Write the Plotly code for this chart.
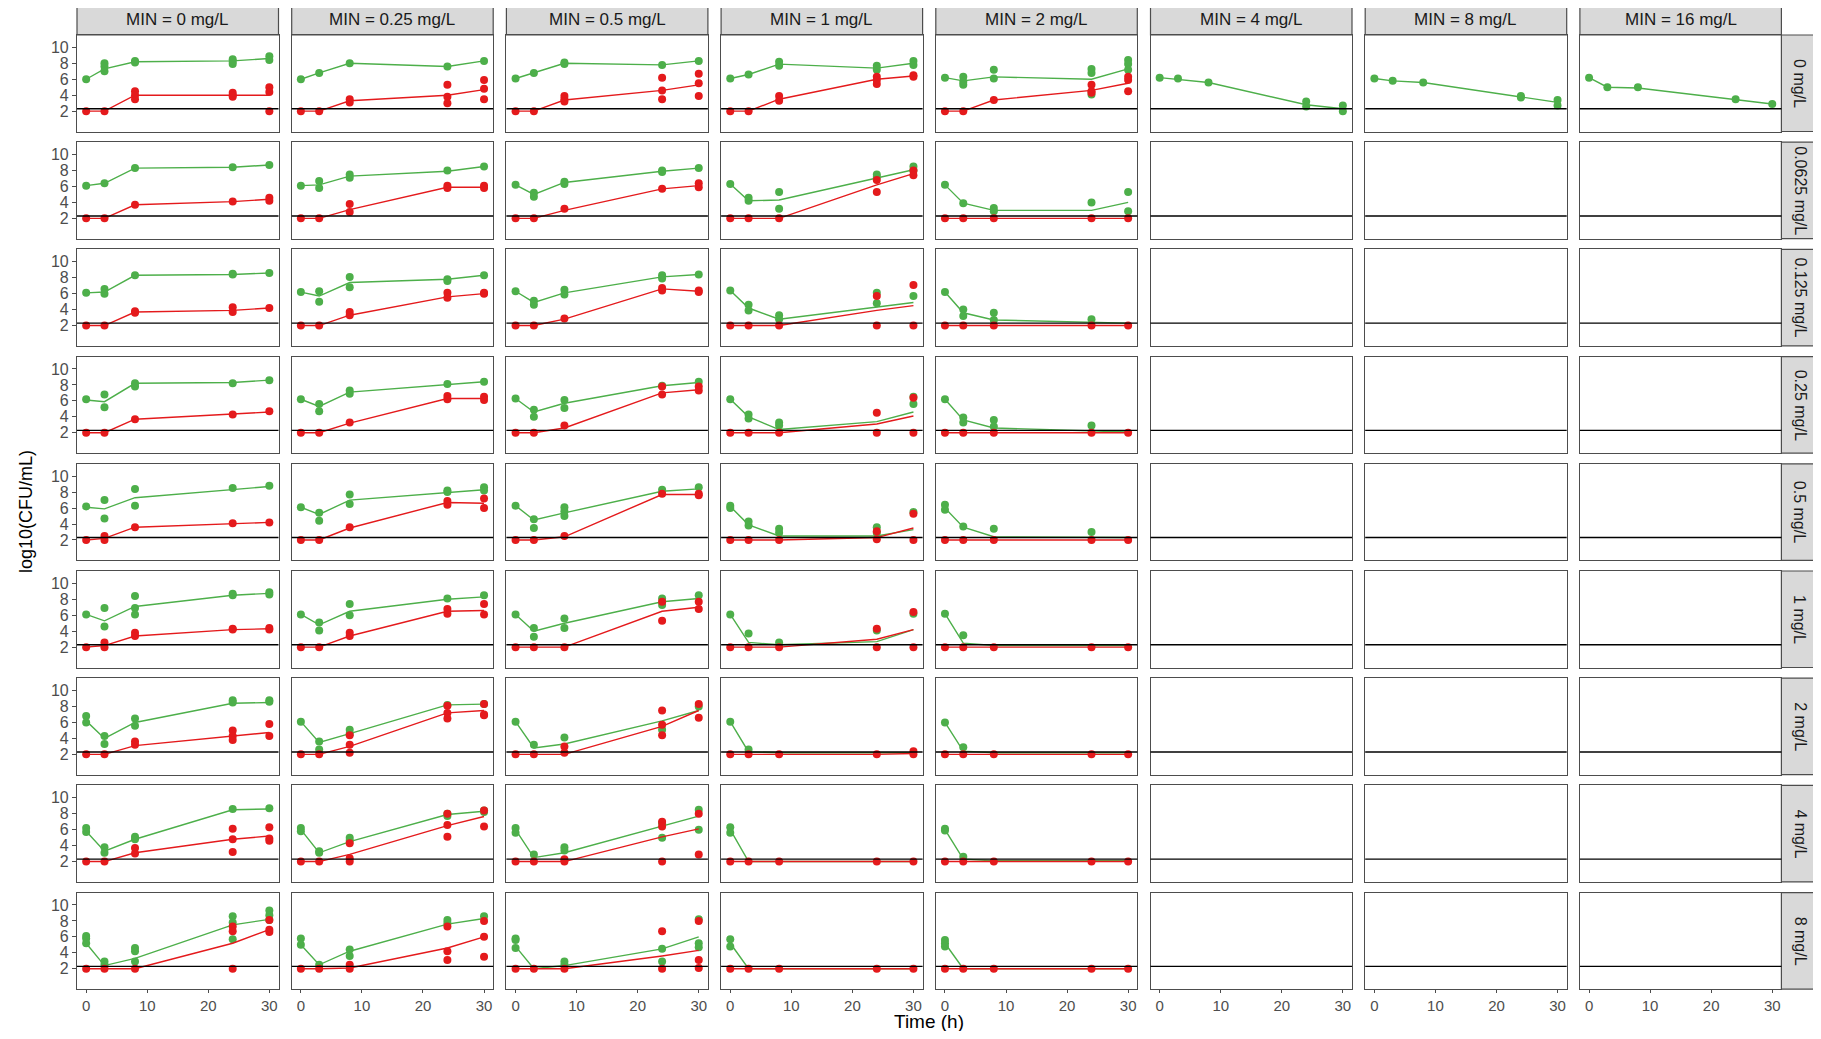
"""Time-kill curves: total (green) and resistant (red) log10 CFU/mL,
faceted by MIN concentration (columns) and partner drug concentration (rows)."""

import plotly.graph_objects as go

# --- Data ---------------------------------------------------------------------

TIMES = [0, 3, 8, 24, 30]
LOQ = 2.3

COL_LABELS = [
    "MIN = 0 mg/L", "MIN = 0.25 mg/L", "MIN = 0.5 mg/L", "MIN = 1 mg/L",
    "MIN = 2 mg/L", "MIN = 4 mg/L", "MIN = 8 mg/L", "MIN = 16 mg/L",
]
ROW_LABELS = [
    "0 mg/L", "0.0625 mg/L", "0.125 mg/L", "0.25 mg/L", "0.5 mg/L",
    "1 mg/L", "2 mg/L", "4 mg/L", "8 mg/L",
]

# observed replicates per time point, keyed by (row, col)
GREEN_OBS = {
    (0, 0): [[6.0], [8.0, 7.6, 7.0], [8.3, 8.1], [8.5, 8.2, 7.9], [8.9, 8.4]],
    (0, 1): [[6.0], [6.8], [8.0], [7.6], [8.3]],
    (0, 2): [[6.1], [6.8], [8.1, 7.9], [7.8], [8.3]],
    (0, 3): [[6.1], [6.6], [8.2, 7.7], [7.7, 7.2], [8.3, 7.8]],
    (0, 4): [[6.2], [6.3, 5.7, 5.3], [7.2, 6.1], [7.3, 6.8, 4.1], [8.4, 7.9, 7.2]],
    (0, 5): [[6.2], [6.1], [5.6], [3.2, 2.6], [2.7, 2.0]],
    (0, 6): [[6.1], [5.8], [5.6], [3.9, 3.7], [3.4, 2.7]],
    (0, 7): [[6.2], [5.0], [5.0], [3.5], [2.9]],
    (1, 0): [[6.1], [6.4], [8.3], [8.4], [8.7]],
    (1, 1): [[6.1], [6.7, 5.8], [7.5, 7.1], [8.0], [8.5]],
    (1, 2): [[6.2], [5.2, 4.7], [6.6, 6.3], [8.0, 7.8], [8.3]],
    (1, 3): [[6.3], [4.6, 4.2], [5.3, 3.2], [7.5, 7.2], [8.5, 8.0]],
    (1, 4): [[6.2], [3.9], [3.3, 2.9], [4.0], [5.3, 2.9]],
    (2, 0): [[6.1], [6.6, 6.0], [8.3], [8.5, 8.4], [8.6]],
    (2, 1): [[6.2], [6.3, 5.0], [8.1, 6.8], [7.8, 7.6], [8.3]],
    (2, 2): [[6.3], [5.1, 4.6], [6.5, 5.9], [8.3, 7.9], [8.4]],
    (2, 3): [[6.4], [4.6, 3.9], [3.3, 2.8], [6.1, 4.8], [5.7]],
    (2, 4): [[6.2], [4.0, 3.2], [3.6, 2.7], [2.8], []],
    (3, 0): [[6.2], [6.8, 5.2], [8.2, 7.8], [8.2], [8.6]],
    (3, 1): [[6.2], [5.6, 4.7], [7.3, 6.9], [8.1], [8.4]],
    (3, 2): [[6.3], [4.9, 4.0], [6.1, 5.1], [7.9], [8.4]],
    (3, 3): [[6.2], [4.3, 3.8], [3.3, 2.9], [], [6.5, 5.6]],
    (3, 4): [[6.2], [3.9, 3.3], [3.6, 2.8], [2.9], []],
    (4, 0): [[6.2], [7.0, 4.7], [8.4, 6.3], [8.5], [8.8]],
    (4, 1): [[6.1], [5.4, 4.4], [7.7, 6.5], [8.2, 8.0], [8.6, 8.2]],
    (4, 2): [[6.3], [4.6, 3.5], [6.1, 5.6, 5.0], [8.3], [8.6]],
    (4, 3): [[6.3, 6.0], [4.3, 3.8], [3.4, 2.9], [3.6, 2.9], [5.5]],
    (4, 4): [[6.4, 5.8], [3.7], [3.4], [3.0], []],
    (5, 0): [[6.1], [6.9, 4.6], [8.4, 6.9, 6.1], [8.7, 8.5], [8.9, 8.6]],
    (5, 1): [[6.1], [5.1, 4.1], [7.4, 6.0], [8.1], [8.5]],
    (5, 2): [[6.1], [4.4, 3.3], [5.6, 4.4], [8.1, 7.3], [8.5]],
    (5, 3): [[6.1], [3.7], [2.6], [4.1], [6.2]],
    (5, 4): [[6.2], [3.5], [], [], []],
    (6, 0): [[6.8, 6.0], [4.3, 3.3], [6.5, 5.6], [8.8, 8.5], [8.8, 8.6]],
    (6, 1): [[6.1], [3.6, 2.6], [5.1, 4.6], [8.2], [8.3]],
    (6, 2): [[6.1], [3.2], [4.1], [5.1], [8.0]],
    (6, 3): [[6.1], [2.6], [], [], []],
    (6, 4): [[6.0], [2.9], [], [], []],
    (7, 0): [[6.2, 5.7], [3.8, 3.1], [5.1, 4.8], [8.6], [8.7]],
    (7, 1): [[6.2, 5.8], [3.3, 3.1], [5.0, 4.6], [8.0, 7.7], [8.2, 8.4]],
    (7, 2): [[6.2, 5.6], [2.9], [3.8, 3.4], [6.8, 5.0], [8.5, 6.0]],
    (7, 3): [[6.3, 5.6], [], [], [], []],
    (7, 4): [[6.1, 5.9], [2.6], [], [], []],
    (8, 0): [[6.1, 5.8, 5.2], [2.9, 2.5], [4.6, 4.2, 2.9], [8.6, 7.8, 5.7], [9.3, 8.7, 8.1]],
    (8, 1): [[5.8, 5.0], [2.5], [4.4, 3.6], [8.1, 7.7], [8.6]],
    (8, 2): [[5.8, 5.6, 4.6], [], [2.9, 2.5], [4.5, 2.9], [8.2, 5.2, 4.7]],
    (8, 3): [[5.7, 4.8], [], [], [], []],
    (8, 4): [[5.6, 5.2, 4.8], [], [], [], []],
}

GREEN_FIT = {
    (0, 0): [6.0, 7.3, 8.2, 8.3, 8.6],
    (0, 1): [6.0, 6.8, 8.0, 7.6, 8.3],
    (0, 2): [6.1, 6.8, 8.0, 7.8, 8.3],
    (0, 3): [6.1, 6.6, 7.9, 7.4, 8.0],
    (0, 4): [6.2, 5.8, 6.3, 6.0, 7.3],
    (0, 5): [6.2, 6.0, 5.6, 2.8, 2.3],
    (0, 6): [6.1, 5.8, 5.6, 3.8, 3.1],
    (0, 7): [6.2, 5.0, 4.9, 3.5, 2.9],
    (1, 0): [6.1, 6.4, 8.3, 8.4, 8.7],
    (1, 1): [6.1, 6.2, 7.3, 7.9, 8.5],
    (1, 2): [6.2, 5.0, 6.5, 7.9, 8.3],
    (1, 3): [6.3, 4.2, 4.3, 7.0, 8.1],
    (1, 4): [6.2, 3.9, 3.0, 3.0, 4.0],
    (2, 0): [6.1, 6.2, 8.3, 8.4, 8.6],
    (2, 1): [6.2, 5.7, 7.4, 7.8, 8.3],
    (2, 2): [6.3, 4.9, 6.1, 8.1, 8.4],
    (2, 3): [6.4, 4.2, 2.8, 4.3, 4.9],
    (2, 4): [6.2, 3.6, 2.7, 2.4, 2.3],
    (3, 0): [6.1, 5.9, 8.2, 8.3, 8.6],
    (3, 1): [6.2, 5.3, 7.1, 8.1, 8.4],
    (3, 2): [6.3, 4.6, 5.7, 7.9, 8.3],
    (3, 3): [6.2, 4.0, 2.4, 3.4, 4.6],
    (3, 4): [6.2, 3.6, 2.6, 2.3, 2.1],
    (4, 0): [6.1, 5.9, 7.3, 8.3, 8.7],
    (4, 1): [6.1, 5.2, 7.0, 8.0, 8.3],
    (4, 2): [6.3, 4.5, 5.4, 8.1, 8.4],
    (4, 3): [6.2, 3.9, 2.5, 2.5, 3.3],
    (4, 4): [6.0, 3.6, 2.4, 2.3, 2.3],
    (5, 0): [6.1, 5.3, 7.1, 8.5, 8.75],
    (5, 1): [6.1, 4.8, 6.5, 8.0, 8.3],
    (5, 2): [6.1, 4.0, 5.0, 7.7, 8.1],
    (5, 3): [6.1, 2.6, 2.3, 2.7, 4.2],
    (5, 4): [6.2, 2.5, 2.2, 2.2, 2.2],
    (6, 0): [6.2, 4.0, 6.0, 8.4, 8.5],
    (6, 1): [6.1, 3.5, 4.6, 8.2, 8.3],
    (6, 2): [6.1, 2.8, 3.3, 6.2, 7.5],
    (6, 3): [6.1, 2.3, 2.2, 2.2, 2.2],
    (6, 4): [6.0, 2.4, 2.2, 2.2, 2.2],
    (7, 0): [5.8, 3.3, 4.8, 8.5, 8.6],
    (7, 1): [6.0, 3.1, 4.5, 7.9, 8.3],
    (7, 2): [6.0, 2.5, 3.1, 6.4, 7.7],
    (7, 3): [6.0, 2.0, 2.0, 2.0, 2.0],
    (7, 4): [6.0, 2.3, 2.1, 2.1, 2.1],
    (8, 0): [5.2, 2.4, 3.3, 7.5, 8.2],
    (8, 1): [5.0, 2.5, 4.2, 7.6, 8.3],
    (8, 2): [4.8, 2.0, 2.4, 4.5, 6.0],
    (8, 3): [5.2, 2.0, 2.0, 2.0, 2.0],
    (8, 4): [5.2, 2.0, 2.0, 2.0, 2.0],
}

RED_OBS = {
    (0, 0): [[2.0], [2.0], [4.5, 4.0, 3.5], [4.3, 4.0, 3.8], [5.0, 4.4, 2.0]],
    (0, 1): [[2.0], [2.0], [3.5, 3.1], [5.3, 3.8, 3.0], [5.9, 4.8, 3.5]],
    (0, 2): [[2.0], [2.0], [3.9, 3.5, 3.2], [6.2, 4.6, 3.5], [6.7, 5.5, 3.9]],
    (0, 3): [[2.0], [2.0], [3.9, 3.3], [6.3, 5.9, 5.4], [6.5, 6.3]],
    (0, 4): [[2.0], [2.0], [3.4], [5.3, 4.5, 4.3], [6.3, 5.9, 4.5]],
    (1, 0): [[2.0], [2.0], [3.7], [4.1], [4.6, 4.2]],
    (1, 1): [[2.0], [2.0], [3.8, 2.8], [6.1, 5.8], [6.1, 5.8]],
    (1, 2): [[2.0], [2.0], [3.2], [5.7], [6.4, 5.9]],
    (1, 3): [[2.0], [2.0], [2.0], [6.8, 5.3], [8.0, 7.4]],
    (1, 4): [[2.0], [2.0], [2.0], [2.0], [2.0]],
    (2, 0): [[2.0], [2.0], [3.8, 3.6], [4.3, 3.7], [4.2]],
    (2, 1): [[2.0], [2.0], [3.7, 3.3], [6.1, 5.5], [6.1, 6.0]],
    (2, 2): [[2.0], [2.0], [2.9], [6.7, 6.4], [6.4, 6.2]],
    (2, 3): [[2.0], [2.0], [2.0], [5.7, 2.0], [7.1, 2.0]],
    (2, 4): [[2.0], [2.0], [2.0], [2.0], [2.0]],
    (3, 0): [[2.0], [2.0], [3.7], [4.3], [4.7]],
    (3, 1): [[2.0], [2.0], [3.3], [6.6, 6.2], [6.5, 6.1]],
    (3, 2): [[2.0], [2.0], [2.9], [7.8, 6.8], [7.8, 7.3]],
    (3, 3): [[2.0], [2.0], [2.0], [4.5, 2.0], [6.4, 2.0]],
    (3, 4): [[2.0], [2.0], [2.0], [2.0], [2.0]],
    (4, 0): [[2.0], [2.5, 2.0], [3.6], [4.1], [4.2]],
    (4, 1): [[2.0], [2.0], [3.6], [6.9, 6.4], [7.2, 6.0]],
    (4, 2): [[2.0], [2.0], [2.5], [7.8], [7.8, 7.6]],
    (4, 3): [[2.0], [2.0], [2.0], [3.1, 2.1], [5.3, 2.0]],
    (4, 4): [[2.0], [2.0], [2.0], [2.0], [2.0]],
    (5, 0): [[2.0], [2.6, 2.0], [3.8, 3.4], [4.3, 4.2], [4.4, 4.2]],
    (5, 1): [[2.0], [2.0], [3.8, 3.4], [6.8, 6.2], [7.4, 6.1]],
    (5, 2): [[2.0], [2.0], [2.0], [7.7, 5.3], [7.7, 6.8]],
    (5, 3): [[2.0], [2.0], [2.0], [4.3, 2.0], [6.4, 2.0]],
    (5, 4): [[2.0], [2.0], [2.0], [2.0], [2.0]],
    (6, 0): [[2.0], [2.0], [3.6, 3.2], [5.0, 4.3, 3.8], [5.8, 4.3]],
    (6, 1): [[2.0], [2.0], [4.4, 3.2, 2.2], [8.1, 7.2, 6.5], [8.3, 7.0, 6.9]],
    (6, 2): [[2.0], [2.0], [3.0, 2.2], [7.5, 5.7, 4.4], [8.3, 6.6]],
    (6, 3): [[2.0], [2.0], [2.0], [2.0], [2.4, 2.0]],
    (6, 4): [[2.0], [2.0], [2.0], [2.0], [2.0]],
    (7, 0): [[2.0], [2.0], [3.7, 3.0], [6.1, 4.8, 3.2], [6.3, 4.9, 4.6]],
    (7, 1): [[2.0], [2.0], [4.3, 2.4, 2.0], [8.0, 6.6, 5.1], [8.4, 6.4]],
    (7, 2): [[2.0], [2.0], [2.3, 2.0], [7.0, 6.4, 2.0], [8.0, 2.9]],
    (7, 3): [[2.0], [2.0], [2.0], [2.0], [2.0]],
    (7, 4): [[2.0], [2.0], [2.0], [2.0], [2.0]],
    (8, 0): [[2.0], [2.0], [2.0], [7.3, 6.7, 2.0], [8.1, 6.9, 6.6]],
    (8, 1): [[2.0], [2.0], [2.5, 2.0], [7.3, 4.2, 3.1], [8.0, 6.0, 3.5]],
    (8, 2): [[2.0], [2.0], [2.0], [6.7, 2.0], [8.0, 3.1, 2.1]],
    (8, 3): [[2.0], [2.0], [2.0], [2.0], [2.0]],
    (8, 4): [[2.0], [2.0], [2.0], [2.0], [2.0]],
}

RED_FIT = {
    (0, 0): [2.0, 2.0, 4.0, 4.0, 4.0],
    (0, 1): [2.0, 2.0, 3.3, 4.0, 4.7],
    (0, 2): [2.0, 2.0, 3.4, 4.6, 5.3],
    (0, 3): [2.0, 2.0, 3.5, 6.0, 6.4],
    (0, 4): [2.0, 2.0, 3.4, 4.6, 5.5],
    (1, 0): [2.0, 2.0, 3.7, 4.1, 4.4],
    (1, 1): [2.0, 2.0, 3.1, 5.9, 5.9],
    (1, 2): [2.0, 2.0, 3.0, 5.7, 6.1],
    (1, 3): [2.0, 2.0, 2.0, 6.2, 7.6],
    (1, 4): [2.0, 2.0, 2.0, 2.0, 2.0],
    (2, 0): [2.0, 2.0, 3.7, 3.9, 4.2],
    (2, 1): [2.0, 2.0, 3.3, 5.6, 6.0],
    (2, 2): [2.0, 2.0, 2.8, 6.6, 6.3],
    (2, 3): [2.0, 2.0, 2.0, 3.9, 4.5],
    (2, 4): [2.0, 2.0, 2.0, 2.0, 2.0],
    (3, 0): [2.0, 2.0, 3.7, 4.3, 4.6],
    (3, 1): [2.0, 2.0, 3.2, 6.3, 6.3],
    (3, 2): [2.0, 2.0, 2.6, 7.0, 7.4],
    (3, 3): [2.0, 2.0, 2.0, 3.1, 4.1],
    (3, 4): [2.0, 2.0, 2.0, 2.0, 2.0],
    (4, 0): [2.0, 2.2, 3.6, 4.1, 4.2],
    (4, 1): [2.0, 2.0, 3.5, 6.7, 6.6],
    (4, 2): [2.0, 2.0, 2.4, 7.7, 7.7],
    (4, 3): [2.0, 2.0, 2.0, 2.3, 3.5],
    (4, 4): [2.0, 2.0, 2.0, 2.0, 2.0],
    (5, 0): [2.0, 2.2, 3.4, 4.2, 4.3],
    (5, 1): [2.0, 2.0, 3.4, 6.5, 6.6],
    (5, 2): [2.0, 2.0, 2.0, 6.5, 7.0],
    (5, 3): [2.0, 2.0, 2.0, 3.0, 4.2],
    (5, 4): [2.0, 2.0, 2.0, 2.0, 2.0],
    (6, 0): [2.0, 2.0, 3.1, 4.35, 4.75],
    (6, 1): [2.0, 2.0, 3.0, 7.2, 7.5],
    (6, 2): [2.0, 2.0, 2.0, 5.5, 7.5],
    (6, 3): [2.0, 2.0, 2.0, 2.0, 2.1],
    (6, 4): [2.0, 2.0, 2.0, 2.0, 2.0],
    (7, 0): [2.0, 2.0, 3.1, 4.8, 5.2],
    (7, 1): [2.0, 2.0, 2.9, 6.5, 7.65],
    (7, 2): [2.0, 2.0, 2.0, 5.1, 6.1],
    (7, 3): [2.0, 2.0, 2.0, 2.0, 2.0],
    (7, 4): [2.0, 2.0, 2.0, 2.0, 2.0],
    (8, 0): [2.0, 2.0, 2.0, 5.2, 6.9],
    (8, 1): [2.0, 2.0, 2.1, 4.6, 6.0],
    (8, 2): [2.0, 2.0, 2.0, 3.6, 4.3],
    (8, 3): [2.0, 2.0, 2.0, 2.0, 2.0],
    (8, 4): [2.0, 2.0, 2.0, 2.0, 2.0],
}

# --- Style / layout -----------------------------------------------------------

# page body has an 8 px margin, so the figure is drawn 8 px in from the window
# edge; all positions below are in window pixels and get shifted back.
PAGE_MARGIN = 8
W, H = 1821 - 2 * PAGE_MARGIN, 1039 - 2 * PAGE_MARGIN
GREEN = "#4DAF4A"
RED = "#E41A1C"
BORDER = "#4d4d4d"
STRIP_FILL = "#D9D9D9"
FONT = "Liberation Sans, Arial, sans-serif"

PANEL_LEFT, PANEL_PITCH_X, PANEL_W = 77.0, 214.7, 201.5
PANEL_TOP, PANEL_PITCH_Y, PANEL_H = 35.0, 107.2, 96.5
STRIP_TOP = 5.0
RSTRIP_RIGHT = 1819.0

N_ROWS, N_COLS = len(ROW_LABELS), len(COL_LABELS)


def px_x(x):
    return (x - PAGE_MARGIN) / W


def px_y(y):
    return 1 - (y - PAGE_MARGIN) / H


def expand(obs):
    xs, ys = [], []
    for t, vals in zip(TIMES, obs):
        for v in vals:
            xs.append(t)
            ys.append(v)
    return xs, ys


fig = go.Figure()
layout = {}
shapes = []
annotations = []

for r in range(N_ROWS):
    for c in range(N_COLS):
        i = r * N_COLS + c + 1
        sfx = "" if i == 1 else str(i)
        xa, ya = f"x{sfx}", f"y{sfx}"
        left = PANEL_LEFT + c * PANEL_PITCH_X
        top = PANEL_TOP + r * PANEL_PITCH_Y
        key = (r, c)

        if key in GREEN_OBS:
            gx, gy = expand(GREEN_OBS[key])
            fig.add_trace(go.Scatter(
                x=TIMES, y=GREEN_FIT[key], mode="lines", xaxis=xa, yaxis=ya,
                line=dict(color=GREEN, width=1.4), showlegend=False, hoverinfo="skip",
            ))
            fig.add_trace(go.Scatter(
                x=gx, y=gy, mode="markers", xaxis=xa, yaxis=ya,
                marker=dict(color=GREEN, size=8), showlegend=False,
            ))
        if key in RED_OBS:
            rx, ry = expand(RED_OBS[key])
            fig.add_trace(go.Scatter(
                x=TIMES, y=RED_FIT[key], mode="lines", xaxis=xa, yaxis=ya,
                line=dict(color=RED, width=1.4), showlegend=False, hoverinfo="skip",
            ))
            fig.add_trace(go.Scatter(
                x=rx, y=ry, mode="markers", xaxis=xa, yaxis=ya,
                marker=dict(color=RED, size=8), showlegend=False,
            ))
        if key not in GREEN_OBS and key not in RED_OBS:
            # empty facet: invisible point keeps the axes alive
            fig.add_trace(go.Scatter(
                x=[None], y=[None], xaxis=xa, yaxis=ya, showlegend=False,
            ))

        bottom_row = r == N_ROWS - 1
        first_col = c == 0
        layout[f"xaxis{sfx}"] = dict(
            domain=[px_x(left), px_x(left + PANEL_W)],
            anchor=ya, range=[-1.5, 31.5], tickvals=[0, 10, 20, 30],
            showticklabels=bottom_row, ticks="outside" if bottom_row else "",
            ticklen=3, tickcolor=BORDER, tickfont=dict(size=15, color="#4d4d4d"),
            showgrid=False, zeroline=False, showline=True, mirror=True,
            linecolor=BORDER, linewidth=1.2, fixedrange=True,
        )
        layout[f"yaxis{sfx}"] = dict(
            domain=[px_y(top + PANEL_H), px_y(top)],
            anchor=xa, range=[-0.55, 11.55], tickvals=[2, 4, 6, 8, 10],
            showticklabels=first_col, ticks="outside" if first_col else "",
            ticklen=4, tickcolor=BORDER, tickfont=dict(size=16, color="#4d4d4d"),
            showgrid=False, zeroline=False, showline=True, mirror=True,
            linecolor=BORDER, linewidth=1.2, fixedrange=True,
        )
        shapes.append(dict(
            type="line", xref=f"{xa} domain", yref=ya, x0=0, x1=1, y0=LOQ, y1=LOQ,
            line=dict(color="black", width=1.4), layer="above",
        ))

# column strips
for c, label in enumerate(COL_LABELS):
    left = PANEL_LEFT + c * PANEL_PITCH_X
    shapes.append(dict(
        type="rect", xref="paper", yref="paper",
        x0=px_x(left), x1=px_x(left + PANEL_W), y0=px_y(PANEL_TOP), y1=px_y(STRIP_TOP),
        fillcolor=STRIP_FILL, line=dict(color=BORDER, width=1.2), layer="below",
    ))
    annotations.append(dict(
        text=label, xref="paper", yref="paper", showarrow=False,
        x=px_x(left + PANEL_W / 2), y=px_y((PANEL_TOP + STRIP_TOP) / 2),
        xanchor="center", yanchor="middle", font=dict(size=17, color="#1a1a1a"),
    ))

# row strips
rs_left = PANEL_LEFT + (N_COLS - 1) * PANEL_PITCH_X + PANEL_W
for r, label in enumerate(ROW_LABELS):
    top = PANEL_TOP + r * PANEL_PITCH_Y
    shapes.append(dict(
        type="rect", xref="paper", yref="paper",
        x0=px_x(rs_left), x1=px_x(RSTRIP_RIGHT), y0=px_y(top + PANEL_H), y1=px_y(top),
        fillcolor=STRIP_FILL, line=dict(color=BORDER, width=1.2), layer="below",
    ))
    annotations.append(dict(
        text=label, xref="paper", yref="paper", showarrow=False, textangle=90,
        x=px_x((rs_left + RSTRIP_RIGHT) / 2), y=px_y(top + PANEL_H / 2),
        xanchor="center", yanchor="middle", font=dict(size=16, color="#1a1a1a"),
    ))

grid_bottom = PANEL_TOP + (N_ROWS - 1) * PANEL_PITCH_Y + PANEL_H
annotations.append(dict(
    text="Time (h)", xref="paper", yref="paper", showarrow=False,
    x=px_x(PANEL_LEFT + (rs_left - PANEL_LEFT) / 2), y=px_y(1021),
    xanchor="center", yanchor="middle", font=dict(size=19, color="black"),
))
annotations.append(dict(
    text="log10(CFU/mL)", xref="paper", yref="paper", showarrow=False, textangle=-90,
    x=px_x(26), y=px_y((PANEL_TOP + grid_bottom) / 2),
    xanchor="center", yanchor="middle", font=dict(size=18, color="black"),
))

fig.update_layout(
    **layout,
    width=W, height=H,
    margin=dict(l=0, r=0, t=0, b=0),
    paper_bgcolor="white", plot_bgcolor="white",
    font=dict(family=FONT),
    shapes=shapes, annotations=annotations,
    showlegend=False,
)

fig.write_html("out.html")
